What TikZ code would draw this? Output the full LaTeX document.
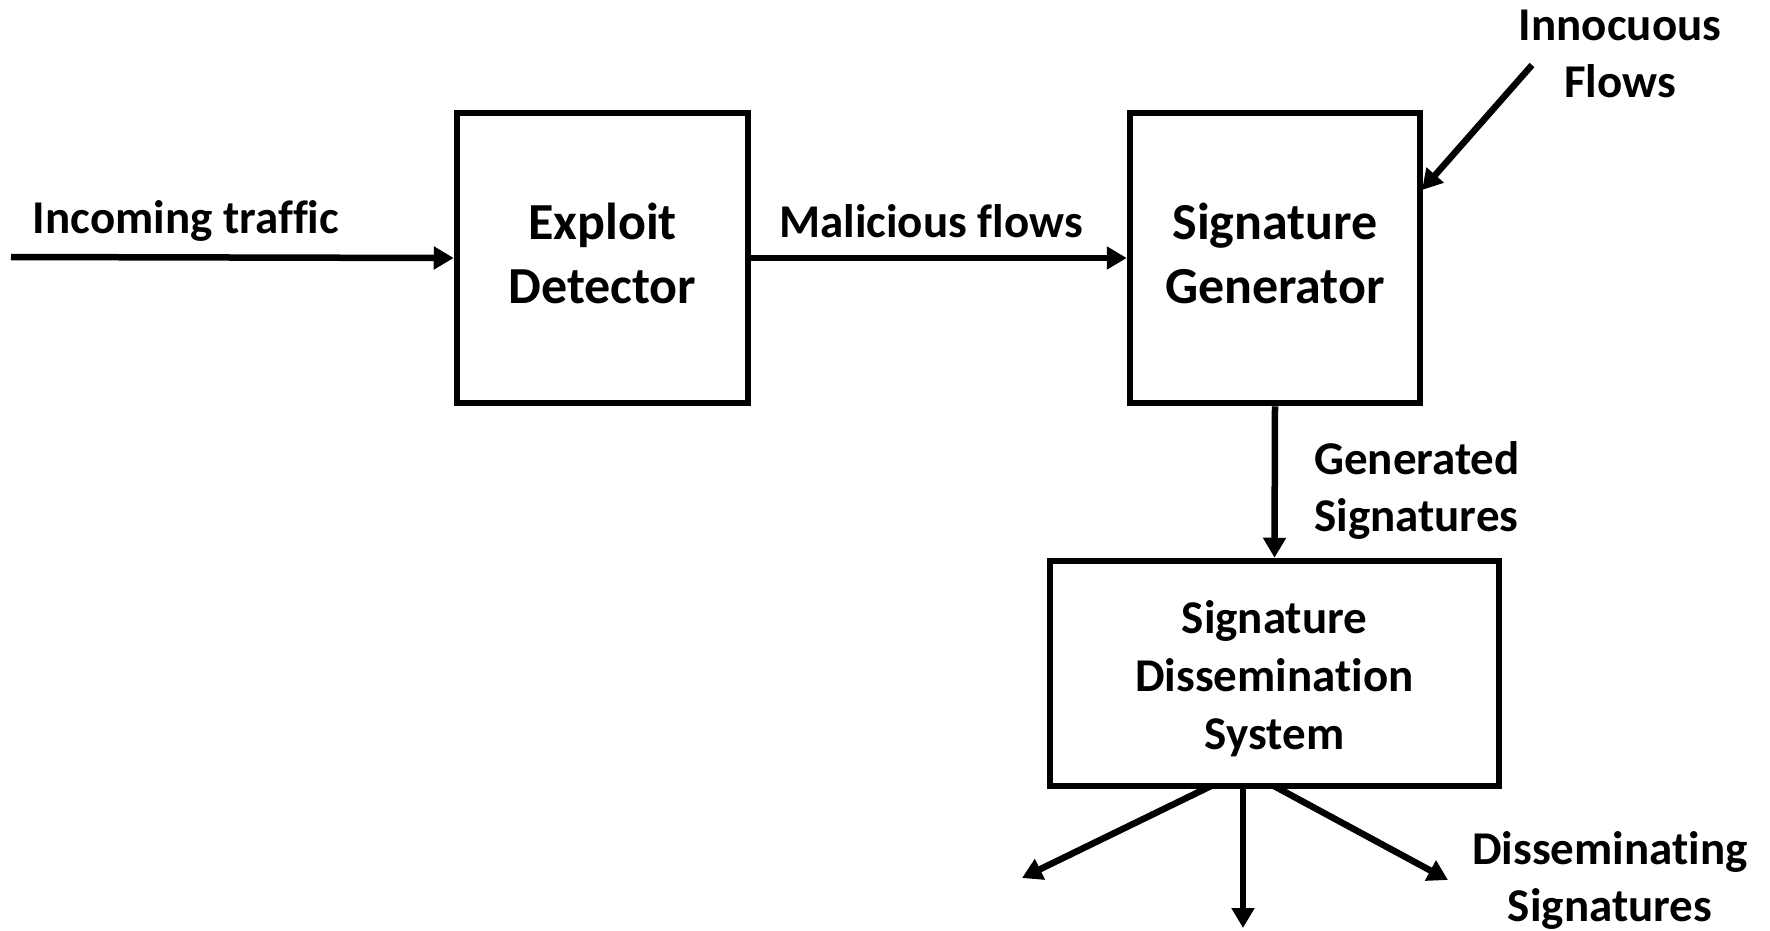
\documentclass[tikz,border=0pt]{standalone}
\usepackage{fontspec}
\setmainfont[Ligatures=NoCommon]{Carlito}
\usetikzlibrary{arrows.meta}
\newcommand\liftby[2]{\raisebox{#1}[\height][\depth]{#2}}
\begin{document}
\begin{tikzpicture}[x=1pt,y=-1pt,
  box/.style={draw, line width=6.5pt, inner sep=0pt, align=center, font=\fontsize{52}{64}\selectfont\bfseries},
  lbl/.style={inner sep=0pt, align=center, font=\fontsize{47}{57}\selectfont\bfseries},
  arr/.style={line width=6.5pt, -{Triangle[length=20pt,width=22pt]}}]
\useasboundingbox (0,0) rectangle (1770,930);
\node[box, minimum width=291pt, minimum height=290pt] (ed) at (602.5,258) {\liftby{5pt}{Exploit}\\\liftby{5pt}{Detector}};
\node[box, minimum width=290pt, minimum height=290pt] (sg) at (1275,258) {\liftby{5pt}{Signature}\\\liftby{5pt}{Generator}};
\node[box, minimum width=449pt, minimum height=225pt, font=\fontsize{47}{58}\selectfont\bfseries] (sd) at (1274.5,673.5) {\liftby{-5pt}{Signature}\\\liftby{-5pt}{Dissemination}\\\liftby{-5pt}{System}};
\coordinate (in) at (11,257);
\draw[arr] (in) -- (ed.west);
\draw[arr] (ed.east) -- (sg.west);
\coordinate (inn) at (1532,65);
\coordinate (innend) at (1422,190);
\draw[arr] (inn) -- (innend);
\draw[arr] (sg.south) -- (sd.north);
\coordinate (s1) at (1211,786);
\coordinate (s2) at (1243,786);
\coordinate (s3) at (1274,786);
\coordinate (e1) at (1022,878);
\coordinate (e2) at (1243,928);
\coordinate (e3) at (1448,880);
\draw[arr] (s1) -- (e1);
\draw[arr] (s2) -- (e2);
\draw[arr] (s3) -- (e3);
\node[lbl] (t1) at (186,221) {Incoming traffic};
\node[lbl] (t2) at (931,221) {Malicious flows};
\node[lbl] (t3) at (1620,54) {Innocuous\\Flows};
\node[lbl, anchor=west, align=left] (t4) at (1314,490) {Generated\\Signatures};
\node[lbl] (t5) at (1610,880) {Disseminating\\Signatures};
\end{tikzpicture}
\end{document}
